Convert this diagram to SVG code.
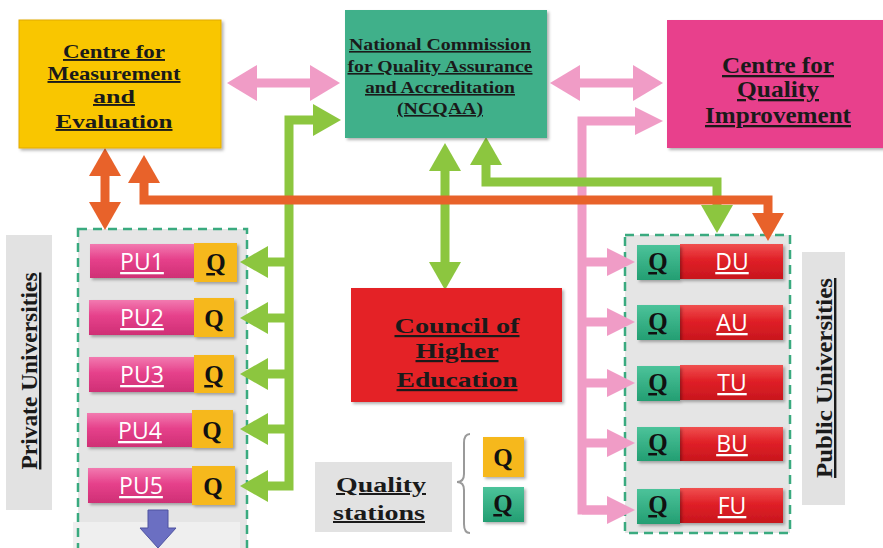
<svg xmlns="http://www.w3.org/2000/svg" width="883" height="548" viewBox="0 0 883 548">
  <defs>
    <filter id="shadow" x="-10%" y="-10%" width="125%" height="130%">
      <feDropShadow dx="2" dy="2" stdDeviation="1.5" flood-color="#000" flood-opacity="0.3"/>
    </filter>
    <linearGradient id="gPink" x1="0" y1="0" x2="0" y2="1">
      <stop offset="0" stop-color="#F27AB0"/>
      <stop offset="0.45" stop-color="#E6418B"/>
      <stop offset="1" stop-color="#CF2F75"/>
    </linearGradient>
    <linearGradient id="gRed" x1="0" y1="0" x2="0" y2="1">
      <stop offset="0" stop-color="#F05050"/>
      <stop offset="0.45" stop-color="#E02027"/>
      <stop offset="1" stop-color="#C8161D"/>
    </linearGradient>
    <linearGradient id="gQg" x1="0" y1="0" x2="0" y2="1">
      <stop offset="0" stop-color="#4CC39A"/>
      <stop offset="1" stop-color="#239E72"/>
    </linearGradient>
    <marker id="hPinkL" viewBox="0 0 10 10" refX="0" refY="5" markerWidth="30" markerHeight="36" markerUnits="userSpaceOnUse" orient="auto-start-reverse" preserveAspectRatio="none">
      <path d="M0,0 L10,5 L0,10 Z" fill="#F09CC6"/>
    </marker>
    <marker id="hPink" viewBox="0 0 10 10" refX="0" refY="5" markerWidth="28" markerHeight="28" markerUnits="userSpaceOnUse" orient="auto-start-reverse" preserveAspectRatio="none">
      <path d="M0,0 L10,5 L0,10 Z" fill="#F09CC6"/>
    </marker>
    <marker id="hGreen" viewBox="0 0 10 10" refX="0" refY="5" markerWidth="28" markerHeight="32" markerUnits="userSpaceOnUse" orient="auto-start-reverse" preserveAspectRatio="none">
      <path d="M0,0 L10,5 L0,10 Z" fill="#8CC63F"/>
    </marker>
    <marker id="hOrange" viewBox="0 0 10 10" refX="0" refY="5" markerWidth="28" markerHeight="32" markerUnits="userSpaceOnUse" orient="auto-start-reverse" preserveAspectRatio="none">
      <path d="M0,0 L10,5 L0,10 Z" fill="#E8622A"/>
    </marker>
  </defs>
  <style>
    .t { font-family: "Liberation Serif", "Times New Roman", serif; font-weight: bold; fill: #1a1a1a; text-anchor: middle; text-decoration: underline; }
    .u { font-family: "Open Sans", "Liberation Sans", sans-serif; fill: #ffffff; text-anchor: middle; text-decoration: underline; font-size: 23px; }
    .q { font-family: "Liberation Serif", serif; font-weight: bold; fill: #111; text-anchor: middle; font-size: 25px; }
    .box { filter: url(#shadow); }
    .grp { fill: #E5E5E5; }
    .dash { fill: none; stroke: #3AAA7F; stroke-width: 2.5; stroke-dasharray: 9 6; }
    .lbl { fill: #E2E2E2; }
    .pk { fill: none; stroke: #F09CC6; stroke-width: 9; stroke-linejoin: miter; }
    .gr { fill: none; stroke: #8CC63F; stroke-width: 9; stroke-linejoin: miter; }
    .or { fill: none; stroke: #E8622A; stroke-width: 9; stroke-linejoin: miter; }
    .qy { fill: #F6B81F; }
    .qg { fill: url(#gQg); }
  </style>

  <rect width="883" height="548" fill="#ffffff"/>

  <!-- university containers -->
  <g id="private-group">
    <rect class="grp" x="78" y="229" width="169" height="330"/>
    <rect x="73" y="522" width="167" height="30" fill="#EFEFEF"/>
    <path d="M148,510 H168 V528 H176 L158,548 L140,528 H148 Z" fill="#6B6FC2" stroke="#4F53A0" stroke-width="1"/>
    <rect class="dash" x="78" y="229" width="169" height="330"/>
  </g>
  <g id="public-group">
    <rect class="grp" x="625" y="235" width="165" height="298"/>
    <rect class="dash" x="625" y="235" width="165" height="298"/>
  </g>

  <!-- side labels -->
  <g id="private-label">
    <rect class="lbl" x="6" y="235" width="46" height="275"/>
    <text class="t" transform="translate(37,371) rotate(-90)" font-size="24" textLength="197" lengthAdjust="spacingAndGlyphs">Private Universities</text>
  </g>
  <g id="public-label">
    <rect class="lbl" x="802" y="252" width="43" height="253"/>
    <text class="t" transform="translate(832,378) rotate(-90)" font-size="24" textLength="200" lengthAdjust="spacingAndGlyphs">Public Universities</text>
  </g>

  <!-- connectors -->
  <g id="connectors">
    <!-- pink -->
    <path class="pk" d="M257,83 H310" stroke-width="12" marker-start="url(#hPinkL)" marker-end="url(#hPinkL)"/>
    <path class="pk" d="M580,83 H633" stroke-width="12" marker-start="url(#hPinkL)" marker-end="url(#hPinkL)"/>
    <path class="pk" d="M607,510 H582 V121 H635" marker-end="url(#hPink)"/>
    <path class="pk" d="M582,510 H607" marker-end="url(#hPink)"/>
    <path class="pk" d="M582,262 H607" marker-end="url(#hPink)"/>
    <path class="pk" d="M582,322 H607" marker-end="url(#hPink)"/>
    <path class="pk" d="M582,383 H607" marker-end="url(#hPink)"/>
    <path class="pk" d="M582,443 H607" marker-end="url(#hPink)"/>
    <!-- green -->
    <path class="gr" d="M268,486 H289 V120 H313" marker-start="url(#hGreen)" marker-end="url(#hGreen)"/>
    <path class="gr" d="M289,262 H268" marker-end="url(#hGreen)"/>
    <path class="gr" d="M289,318 H268" marker-end="url(#hGreen)"/>
    <path class="gr" d="M289,374 H268" marker-end="url(#hGreen)"/>
    <path class="gr" d="M289,429 H268" marker-end="url(#hGreen)"/>
    <path class="gr" d="M445,171 V262" marker-start="url(#hGreen)" marker-end="url(#hGreen)"/>
    <path class="gr" d="M486,165 V182 H717 V205" marker-start="url(#hGreen)" marker-end="url(#hGreen)"/>
    <!-- orange -->
    <path class="or" d="M105,176 V202" marker-start="url(#hOrange)" marker-end="url(#hOrange)"/>
    <path class="or" d="M144,183 V200 H768 V213" marker-start="url(#hOrange)" marker-end="url(#hOrange)"/>
  </g>

  <!-- agencies -->
  <g id="cme">
    <rect class="box" x="19" y="20" width="202" height="128" fill="#F9C606" stroke="#E2AA00" stroke-width="1"/>
    <text class="t" x="114" y="58" font-size="19" textLength="102" lengthAdjust="spacingAndGlyphs">Centre for</text>
    <text class="t" x="114" y="80" font-size="19" textLength="133" lengthAdjust="spacingAndGlyphs">Measurement</text>
    <text class="t" x="114" y="103" font-size="19" textLength="42" lengthAdjust="spacingAndGlyphs">and</text>
    <text class="t" x="114" y="128" font-size="19" textLength="117" lengthAdjust="spacingAndGlyphs">Evaluation</text>
  </g>

  <g id="ncqaa">
    <rect class="box" x="345" y="10" width="202" height="128" fill="#3FB08A"/>
    <text class="t" x="440" y="50" font-size="16" textLength="182" lengthAdjust="spacingAndGlyphs">National Commission</text>
    <text class="t" x="440" y="72" font-size="16" textLength="185" lengthAdjust="spacingAndGlyphs">for Quality Assurance</text>
    <text class="t" x="440" y="93" font-size="16" textLength="150" lengthAdjust="spacingAndGlyphs">and Accreditation</text>
    <text class="t" x="440" y="114" font-size="16" textLength="86" lengthAdjust="spacingAndGlyphs">(NCQAA)</text>
  </g>

  <g id="cqi">
    <rect class="box" x="667" y="20" width="230" height="128" fill="#E8418C"/>
    <text class="t" x="778" y="73" font-size="23" textLength="112" lengthAdjust="spacingAndGlyphs">Centre for</text>
    <text class="t" x="778" y="97" font-size="23" textLength="82" lengthAdjust="spacingAndGlyphs">Quality</text>
    <text class="t" x="778" y="123" font-size="23" textLength="146" lengthAdjust="spacingAndGlyphs">Improvement</text>
  </g>

  <g id="che">
    <rect class="box" x="351" y="288" width="211" height="114" fill="#E42328"/>
    <text class="t" x="457" y="333" font-size="22" textLength="125" lengthAdjust="spacingAndGlyphs">Council of</text>
    <text class="t" x="457" y="358" font-size="22" textLength="83" lengthAdjust="spacingAndGlyphs">Higher</text>
    <text class="t" x="457" y="387" font-size="22" textLength="121" lengthAdjust="spacingAndGlyphs">Education</text>
  </g>

  <!-- private universities -->
  <g id="pu1">
    <rect class="box" x="90" y="244" width="104" height="34" fill="url(#gPink)"/>
    <rect class="box qy" x="194" y="243" width="43" height="39"/>
    <text class="u" x="142" y="270">PU1</text>
    <text class="q" x="216" y="271" text-decoration="underline">Q</text>
  </g>
  <g id="pu2">
    <rect class="box" x="89" y="300" width="105" height="35" fill="url(#gPink)"/>
    <rect class="box qy" x="194" y="298" width="40" height="39"/>
    <text class="u" x="142" y="326">PU2</text>
    <text class="q" x="214" y="327">Q</text>
  </g>
  <g id="pu3">
    <rect class="box" x="89" y="357" width="105" height="35" fill="url(#gPink)"/>
    <rect class="box qy" x="194" y="355" width="40" height="38"/>
    <text class="u" x="142" y="383">PU3</text>
    <text class="q" x="214" y="383" text-decoration="underline">Q</text>
  </g>
  <g id="pu4">
    <rect class="box" x="87" y="413" width="105" height="34" fill="url(#gPink)"/>
    <rect class="box qy" x="192" y="410" width="41" height="38"/>
    <text class="u" x="140" y="439">PU4</text>
    <text class="q" x="212" y="439">Q</text>
  </g>
  <g id="pu5">
    <rect class="box" x="88" y="468" width="104" height="35" fill="url(#gPink)"/>
    <rect class="box qy" x="192" y="466" width="43" height="39"/>
    <text class="u" x="141" y="494">PU5</text>
    <text class="q" x="213" y="495">Q</text>
  </g>

  <!-- public universities -->
  <g id="du">
    <rect class="box" x="680" y="244" width="103" height="35" fill="url(#gRed)"/>
    <rect class="box qg" x="637" y="245" width="43" height="35"/>
    <text class="u" x="732" y="270">DU</text>
    <text class="q" x="658" y="270" text-decoration="underline">Q</text>
  </g>
  <g id="au">
    <rect class="box" x="680" y="305" width="103" height="35" fill="url(#gRed)"/>
    <rect class="box qg" x="637" y="305" width="43" height="35"/>
    <text class="u" x="732" y="331">AU</text>
    <text class="q" x="658" y="330" text-decoration="underline">Q</text>
  </g>
  <g id="tu">
    <rect class="box" x="680" y="365" width="103" height="35" fill="url(#gRed)"/>
    <rect class="box qg" x="637" y="366" width="43" height="35"/>
    <text class="u" x="732" y="391">TU</text>
    <text class="q" x="658" y="391" text-decoration="underline">Q</text>
  </g>
  <g id="bu">
    <rect class="box" x="680" y="427" width="103" height="34" fill="url(#gRed)"/>
    <rect class="box qg" x="637" y="427" width="43" height="34"/>
    <text class="u" x="732" y="452">BU</text>
    <text class="q" x="658" y="451" text-decoration="underline">Q</text>
  </g>
  <g id="fu">
    <rect class="box" x="680" y="488" width="103" height="35" fill="url(#gRed)"/>
    <rect class="box qg" x="637" y="489" width="43" height="35"/>
    <text class="u" x="732" y="514">FU</text>
    <text class="q" x="658" y="513" text-decoration="underline">Q</text>
  </g>

  <!-- legend -->
  <g id="legend">
    <rect class="lbl" x="315" y="462" width="137" height="70"/>
    <text class="t" x="381" y="492" font-size="20" textLength="90" lengthAdjust="spacingAndGlyphs">Quality</text>
    <text class="t" x="379" y="520" font-size="20" textLength="92" lengthAdjust="spacingAndGlyphs">stations</text>
    <path d="M470,434 Q464,434 464,443 L464,474 Q464,482 457,482 Q464,482 464,490 L464,524 Q464,533 470,533" fill="none" stroke="#9A9A9A" stroke-width="2"/>
    <rect class="box qy" x="483" y="437" width="41" height="40"/>
    <text class="q" x="503" y="466">Q</text>
    <rect class="box qg" x="483" y="487" width="41" height="35"/>
    <text class="q" x="503" y="512" text-decoration="underline">Q</text>
  </g>
</svg>
